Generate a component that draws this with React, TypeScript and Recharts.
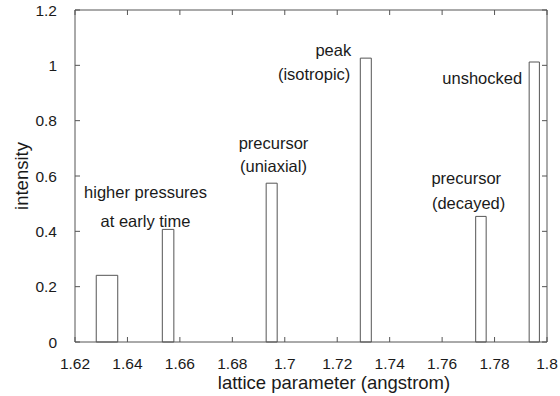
import {
  ComposedChart,
  XAxis,
  YAxis,
  Scatter,
  ReferenceArea,
  ReferenceDot,
} from "recharts";

// bar edges (angstrom) and heights
const barLeft = [1.6281, 1.6533, 1.6929, 1.7288, 1.7728, 1.7932];
const barRight = [1.6363, 1.6577, 1.6971, 1.733, 1.7768, 1.7971];
const barHeight = [0.241, 0.407, 0.574, 1.026, 0.454, 1.012];

const xTicks = [1.62, 1.64, 1.66, 1.68, 1.7, 1.72, 1.74, 1.76, 1.78, 1.8];
const yTicks = [0, 0.2, 0.4, 0.6, 0.8, 1, 1.2];

// annotation text lines, anchored at (x, y) in data units
const noteText = [
  "higher pressures",
  "at early time",
  "precursor",
  "(uniaxial)",
  "peak",
  "(isotropic)",
  "unshocked",
  "precursor",
  "(decayed)",
];
const noteX = [1.6469, 1.6469, 1.6957, 1.6957, 1.7185, 1.7112, 1.7753, 1.7692, 1.7701];
const noteY = [0.542, 0.438, 0.719, 0.636, 1.055, 0.969, 0.954, 0.592, 0.503];

const W = 560;
const H = 396;
const M = { top: 10, right: 13, bottom: 0, left: 0 };
const Y_AXIS_W = 75;
const X_AXIS_H = 54;
// plot box edges, from the layout above
const P_LEFT = M.left + Y_AXIS_W;
const P_RIGHT = W - M.right;
const P_TOP = M.top;
const P_BOTTOM = H - M.bottom - X_AXIS_H;
const TICK = 5;

const INK = "#1a1a1a";
const LINE = "#555";
const FONT = "'Liberation Sans', Arial, Helvetica, sans-serif";

const fmt = (v: number) => String(Number(v.toFixed(2)));
const none = () => <g />;

// x tick: label, inward tick at bottom, mirrored tick at top (+ top frame edge)
function XTick(p: any) {
  const c = p.payload.coordinate;
  return (
    <g>
      <line x1={c} y1={P_BOTTOM} x2={c} y2={P_BOTTOM - TICK} stroke={LINE} />
      <line x1={c} y1={P_TOP} x2={c} y2={P_TOP + TICK} stroke={LINE} />
      {p.index === 0 && (
        <line x1={P_LEFT} y1={P_TOP} x2={P_RIGHT} y2={P_TOP} stroke={LINE} />
      )}
      <text
        x={p.x}
        y={p.y}
        dy="0.71em"
        textAnchor="middle"
        fill={INK}
        fontSize={15.5}
        fontFamily={FONT}
      >
        {fmt(p.payload.value)}
      </text>
    </g>
  );
}

// y tick: label, inward tick at left, mirrored tick at right (+ right frame edge)
function YTick(p: any) {
  const c = p.payload.coordinate;
  return (
    <g>
      <line x1={P_LEFT} y1={c} x2={P_LEFT + TICK} y2={c} stroke={LINE} />
      <line x1={P_RIGHT} y1={c} x2={P_RIGHT - TICK} y2={c} stroke={LINE} />
      {p.index === 0 && (
        <line x1={P_RIGHT} y1={P_TOP} x2={P_RIGHT} y2={P_BOTTOM} stroke={LINE} />
      )}
      <text
        x={p.x}
        y={p.y}
        dy="0.355em"
        textAnchor="end"
        fill={INK}
        fontSize={15.5}
        fontFamily={FONT}
      >
        {fmt(p.payload.value)}
      </text>
    </g>
  );
}

export default function App() {
  const data = barLeft.map((l, i) => ({
    x: (l + barRight[i]) / 2,
    h: barHeight[i],
  }));

  return (
    <div style={{ position: "absolute", left: 0, top: 0, background: "#fff" }}>
      <ComposedChart width={W} height={H} data={data} margin={M}>
        <XAxis
          dataKey="x"
          type="number"
          domain={[1.62, 1.8]}
          ticks={xTicks}
          allowDataOverflow
          height={X_AXIS_H}
          stroke={LINE}
          tickLine={false}
          tickMargin={10}
          tick={<XTick />}
          label={{
            value: "lattice parameter (angstrom)",
            position: "insideBottom",
            offset: 7,
            dx: 23,
            fill: INK,
            fontSize: 18.5,
            fontFamily: FONT,
          }}
        />
        <YAxis
          type="number"
          domain={[0, 1.2]}
          ticks={yTicks}
          allowDataOverflow
          width={Y_AXIS_W}
          stroke={LINE}
          tickLine={false}
          tickMargin={12}
          tick={<YTick />}
          label={{
            value: "intensity",
            angle: -90,
            position: "center",
            dx: -16.5,
            fill: INK,
            fontSize: 18.5,
            fontFamily: FONT,
          }}
        />
        {barLeft.map((l, i) => (
          <ReferenceArea
            key={"b" + i}
            x1={l}
            x2={barRight[i]}
            y1={0}
            y2={barHeight[i]}
            fill="#fff"
            fillOpacity={1}
            stroke={LINE}
            strokeWidth={1}
          />
        ))}
        <Scatter dataKey="h" shape={none} isAnimationActive={false} />
        {noteText.map((t, i) => (
          <ReferenceDot
            key={"n" + i}
            x={noteX[i]}
            y={noteY[i]}
            r={0}
            fill="none"
            stroke="none"
            label={{
              value: t,
              position: "center",
              fill: INK,
              fontSize: 16.5,
              fontFamily: FONT,
            }}
          />
        ))}
      </ComposedChart>
    </div>
  );
}
